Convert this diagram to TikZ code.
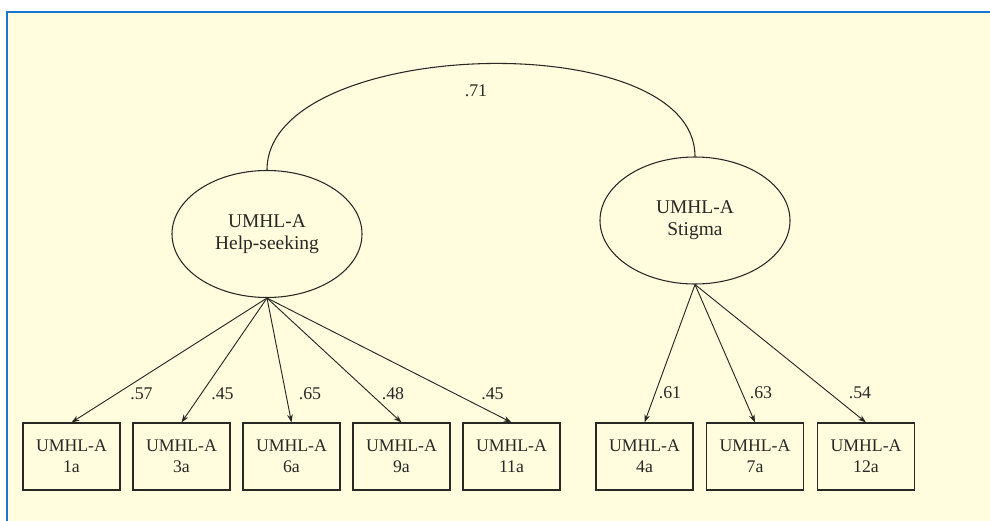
\documentclass[tikz,border=0pt]{standalone}
\usepackage{fontspec}
\setmainfont{Liberation Serif}
\usetikzlibrary{shapes.geometric,arrows.meta}
\definecolor{cream}{RGB}{255,253,222}
\definecolor{frameblue}{RGB}{24,118,210}
\definecolor{ink}{RGB}{40,40,36}
\tikzset{
  latent/.style={ellipse, draw=ink, line width=0.8pt, minimum width=142.5pt, minimum height=95.25pt, inner sep=0pt, align=center, text=ink, font=\fontsize{14.6}{16.5}\selectfont},
  indicator/.style={rectangle, draw=ink, line width=0.8pt, minimum width=72.75pt, minimum height=50.25pt, inner sep=0pt, align=center, text=ink, font=\fontsize{13.3}{16}\selectfont},
  coef/.style={inner sep=0pt, text=ink, font=\fontsize{13.4}{16}\selectfont},
  load/.style={draw=ink, line width=0.7pt, -{Stealth[length=6pt, width=4.2pt]}},
  corr/.style={draw=ink, line width=0.8pt}
}
\begin{document}
\begin{tikzpicture}[x=0.75pt, y=-0.75pt]
\useasboundingbox (0,0) rectangle (990,521);
\fill[white] (0,0) rectangle (990,521);
\fill[cream] (7,12) rectangle (990,521);
\draw[frameblue, line width=1.6pt] (990,12) -- (7,12) -- (7,521);

% latent variables
\node[latent] (hs) at (267,234) {UMHL-A\\Help-seeking};
\node[latent] (st) at (695,220.5) {UMHL-A\\Stigma};

% indicators
\node[indicator] (i1)  at (71.5,456.5)  {UMHL-A\\1a};
\node[indicator] (i3)  at (181.5,456.5) {UMHL-A\\3a};
\node[indicator] (i6)  at (291.5,456.5) {UMHL-A\\6a};
\node[indicator] (i9)  at (401.5,456.5) {UMHL-A\\9a};
\node[indicator] (i11) at (511.5,456.5) {UMHL-A\\11a};
\node[indicator] (i4)  at (644.5,456.5) {UMHL-A\\4a};
\node[indicator] (i7)  at (755,456.5)   {UMHL-A\\7a};
\node[indicator] (i12) at (866,456.5)   {UMHL-A\\12a};

% correlation
\draw[corr] (hs.north) .. controls (267,37) and (695,24) .. (st.north);
\node[coef] (r) at (476,90.5) {.71};

% loadings
\draw[load] (hs.south) -- (i1.north);
\draw[load] (hs.south) -- (i3.north);
\draw[load] (hs.south) -- (i6.north);
\draw[load] (hs.south) -- (i9.north);
\draw[load] (hs.south) -- (i11.north);
\draw[load] (st.south) -- (i4.north);
\draw[load] (st.south) -- (i7.north);
\draw[load] (st.south) -- (i12.north);

\node[coef] (l1)  at (141.5,394) {.57};
\node[coef] (l3)  at (222.5,394) {.45};
\node[coef] (l6)  at (310,394)   {.65};
\node[coef] (l9)  at (393,394)   {.48};
\node[coef] (l11) at (492.5,394) {.45};
\node[coef] (l4)  at (670,393)   {.61};
\node[coef] (l7)  at (761,393)   {.63};
\node[coef] (l12) at (860,393)   {.54};
\end{tikzpicture}
\end{document}
